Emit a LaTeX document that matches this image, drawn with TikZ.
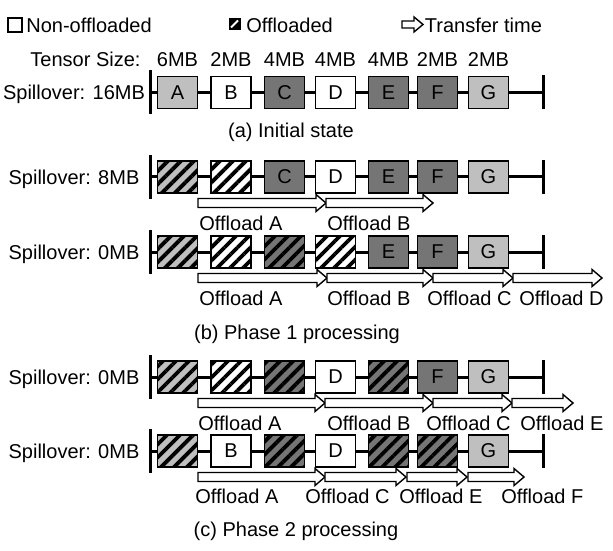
\documentclass[tikz,border=0pt]{standalone}
\usepackage{fontspec}
\setmainfont{Liberation Sans}
\usetikzlibrary{patterns.meta}

\definecolor{lightfill}{gray}{0.75}
\definecolor{darkfill}{gray}{0.46}

% transfer arrow: from x=#1 to x=#2 at height #3
\newcommand\xferarrow[3]{%
  \draw[xfer] (#1,#3-4.5) -- (#2-10,#3-4.5) -- (#2-10,#3-8.5) -- (#2,#3)
    -- (#2-10,#3+8.5) -- (#2-10,#3+4.5) -- (#1,#3+4.5) -- cycle;}

\begin{document}
\begin{tikzpicture}[x=0.5pt,y=-0.5pt,
    tbox/.style={draw,line width=0.75pt,minimum width=20pt,minimum height=16pt,inner sep=0pt},
    lt/.style={tbox,fill=lightfill},
    dk/.style={tbox,fill=darkfill},
    wt/.style={tbox,fill=white},
    hatched/.style={tbox,preaction={fill=#1},
      pattern={Lines[angle=45,distance=4.6pt,line width=1.9pt]}},
    lth/.style={hatched=lightfill},
    dkh/.style={hatched=darkfill},
    wth/.style={hatched=white},
    tline/.style={line width=1.5pt},
    xfer/.style={draw,fill=white,line width=0.7pt},
    lbl/.style={anchor=base,inner sep=0pt},
    olbl/.style={anchor=base west,inner sep=0pt}]
  \useasboundingbox (0,0) rectangle (613,550);

  % legend
  \node[draw,line width=0.7pt,minimum size=7pt,inner sep=0pt] (keyplain) at (15,25) {};
  \node[olbl] (keyplaintxt) at (26,33) {Non-offloaded};
  \node[fill=black,minimum size=6pt,inner sep=0pt] (keyhatch) at (234.5,24) {};
  \draw[white,line width=1pt] (231,27.5) -- (238,20.5);
  \node[olbl] (keyhatchtxt) at (246,33) {Offloaded};
  \draw[xfer] (402,21) -- (414,21) -- (414,17) -- (423,24.5) -- (414,32) -- (414,28) -- (402,28) -- cycle;
  \node[olbl] (keyxfertxt) at (424.5,33) {Transfer time};

  % (a) initial state
  \node[lbl] (tsize) at (85.5,67) {Tensor Size:};
  \node[lbl] (spilla) at (74,100) {Spillover: 16MB};
  \coordinate (a0) at (150,92.5);
  \coordinate (a8) at (543,92.5);
  \draw[tline] (a0) -- (a8);
  \draw[tline] ([yshift=11pt]a0) -- ([yshift=-11pt]a0);
  \draw[tline] ([yshift=8.5pt]a8) -- ([yshift=-8.5pt]a8);
  \foreach \n/\x/\s/\mb in {A/177.5/lt/6,B/231/wt/2,C/284.5/dk/4,D/335.5/wt/4,E/388.5/dk/4,F/437.5/dk/2,G/488.5/lt/2}{
    \node[\s] (a\n) at (\x,92.5) {\n};
    \node[lbl] (sz\n) at (\x,67) {\mb MB};
  }
  \node[lbl] (capa) at (291,138) {(a) Initial state};

  % (b) phase 1, first step
  \node[lbl] (spillb1) at (74,184.5) {Spillover: 8MB};
  \coordinate (b0) at (150,177);
  \coordinate (b8) at (543,177);
  \draw[tline] (b0) -- (b8);
  \draw[tline] ([yshift=11pt]b0) -- ([yshift=-11pt]b0);
  \draw[tline] ([yshift=8.5pt]b8) -- ([yshift=-8.5pt]b8);
  \foreach \n/\x/\s/\t in {A/177.5/lth/,B/231/wth/,C/284.5/dk/C,D/335.5/wt/D,E/388.5/dk/E,F/437.5/dk/F,G/488.5/lt/G}
    \node[\s] (b\n) at (\x,177) {\t};
  \foreach \p/\q/\l/\lx in {198/326/A/199,326/433/B/327}{
    \xferarrow{\p}{\q}{203}
    \node[olbl] (boff\l) at (\lx,230.5) {Offload \l};
  }

  % (b) phase 1, second step
  \node[lbl] (spillb2) at (74,259.5) {Spillover: 0MB};
  \coordinate (bb0) at (150,252);
  \coordinate (bb8) at (543,252);
  \draw[tline] (bb0) -- (bb8);
  \draw[tline] ([yshift=11pt]bb0) -- ([yshift=-11pt]bb0);
  \draw[tline] ([yshift=8.5pt]bb8) -- ([yshift=-8.5pt]bb8);
  \foreach \n/\x/\s/\t in {A/177.5/lth/,B/231/wth/,C/284.5/dkh/,D/335.5/wth/,E/388.5/dk/E,F/437.5/dk/F,G/488.5/lt/G}
    \node[\s] (bb\n) at (\x,252) {\t};
  \foreach \p/\q/\l/\lx in {198/327/A/199,327/433/B/327,433/513/C/427,513/602/D/519}{
    \xferarrow{\p}{\q}{278}
    \node[olbl] (bboff\l) at (\lx,305.5) {Offload \l};
  }
  \node[lbl] (capb) at (297,339) {(b) Phase 1 processing};

  % (c) phase 2, first step
  \node[lbl] (spillc1) at (74,384.5) {Spillover: 0MB};
  \coordinate (c0) at (150,377);
  \coordinate (c8) at (543,377);
  \draw[tline] (c0) -- (c8);
  \draw[tline] ([yshift=11pt]c0) -- ([yshift=-11pt]c0);
  \draw[tline] ([yshift=8.5pt]c8) -- ([yshift=-8.5pt]c8);
  \foreach \n/\x/\s/\t in {A/177.5/lth/,B/231/wth/,C/284.5/dkh/,D/335.5/wt/D,E/388.5/dkh/,F/437.5/dk/F,G/488.5/lt/G}
    \node[\s] (c\n) at (\x,377) {\t};
  \foreach \p/\q/\l/\lx in {198/325/A/198,325/433/B/327,433/512/C/426,512/573/E/520}{
    \xferarrow{\p}{\q}{403}
    \node[olbl] (coff\l) at (\lx,430) {Offload \l};
  }

  % (c) phase 2, second step
  \node[lbl] (spillc2) at (74,458.5) {Spillover: 0MB};
  \coordinate (cc0) at (150,451);
  \coordinate (cc8) at (543,451);
  \draw[tline] (cc0) -- (cc8);
  \draw[tline] ([yshift=11pt]cc0) -- ([yshift=-11pt]cc0);
  \draw[tline] ([yshift=8.5pt]cc8) -- ([yshift=-8.5pt]cc8);
  \foreach \n/\x/\s/\t in {A/177.5/lth/,B/231/wt/B,C/284.5/dkh/,D/335.5/wt/D,E/388.5/dkh/,F/437.5/dkh/,G/488.5/lt/G}
    \node[\s] (cc\n) at (\x,451) {\t};
  \foreach \p/\q/\l/\lx in {198/325/A/195,325/406/C/305,407/467/E/399,468/524/F/501}{
    \xferarrow{\p}{\q}{477}
    \node[olbl] (ccoff\l) at (\lx,503.5) {Offload \l};
  }
  \node[lbl] (capc) at (296,536) {(c) Phase 2 processing};
\end{tikzpicture}
\end{document}
